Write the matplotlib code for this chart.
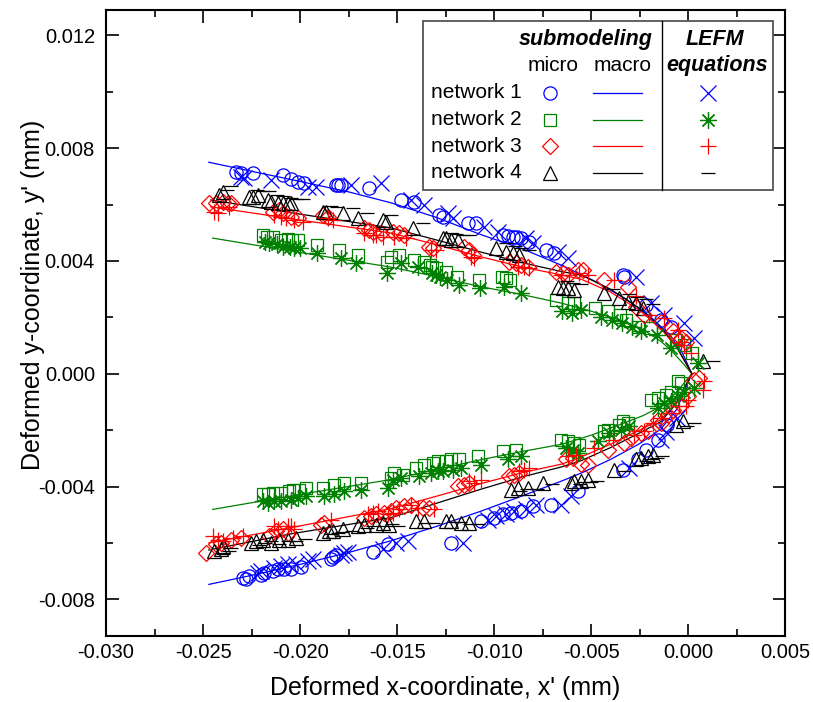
import matplotlib
matplotlib.use('Agg')
import matplotlib.pyplot as plt
from matplotlib.patches import Rectangle
from matplotlib.ticker import MultipleLocator, FormatStrFormatter

plt.rcParams['font.family'] = ['Liberation Sans', 'DejaVu Sans']
plt.rcParams['axes.unicode_minus'] = False

# ---- network 1 ----
# micro (submodel) crack faces: upper face first, then lower face
n1_micro_x = [-0.02330, -0.02304, -0.02244, -0.02089, -0.02047, -0.02012, -0.01978, -0.01815, -0.01806, -0.01789,
              -0.01643, -0.01479, -0.01411, -0.01282, -0.01265, -0.01136, -0.01093, -0.00955, -0.00929, -0.00904,
              -0.00887, -0.00861, -0.00818, -0.00732, -0.00689, -0.00337, -0.00330, -0.00216, -0.00139, -0.00088,
              -0.02295, -0.02278, -0.02261, -0.02201, -0.02184, -0.02141, -0.02115, -0.02081, -0.02046, -0.01995,
              -0.01840, -0.01831, -0.01814, -0.01625, -0.01548, -0.01222, -0.01067, -0.00998, -0.00955, -0.00912,
              -0.00861, -0.00801, -0.00706, -0.00569, -0.00337, -0.00259, -0.00216, -0.00156, -0.00108]
n1_micro_y = [0.00716, 0.00713, 0.00713, 0.00704, 0.00689, 0.00681, 0.00675, 0.00669, 0.00669, 0.00669,
              0.00657, 0.00616, 0.00610, 0.00563, 0.00557, 0.00533, 0.00533, 0.00492, 0.00488, 0.00486,
              0.00484, 0.00480, 0.00468, 0.00439, 0.00427, 0.00350, 0.00344, 0.00244, 0.00191, 0.00167,
              -0.00723, -0.00727, -0.00718, -0.00712, -0.00708, -0.00700, -0.00694, -0.00694, -0.00694, -0.00684,
              -0.00656, -0.00649, -0.00644, -0.00633, -0.00605, -0.00599, -0.00523, -0.00511, -0.00499, -0.00493,
              -0.00487, -0.00470, -0.00464, -0.00417, -0.00340, -0.00304, -0.00269, -0.00234, -0.00181]
n1_lefm_x = [-0.02304, -0.02287, -0.02150, -0.01960, -0.01918, -0.01737, -0.01583, -0.01428, -0.01361, -0.01239,
             -0.01213, -0.01052, -0.00981, -0.00835, -0.00801, -0.00672, -0.00620, -0.00268, -0.00191, -0.00124,
             -0.00021, 0.00031,
             -0.02218, -0.02201, -0.02132, -0.02098, -0.02063, -0.02021, -0.01960, -0.01935, -0.01789, -0.01772,
             -0.01754, -0.01574, -0.01505, -0.01445, -0.01161, -0.01032, -0.00990, -0.00938, -0.00895, -0.00835,
             -0.00784, -0.00655, -0.00603, -0.00303, -0.00139, -0.00113, -0.00057]
n1_lefm_y = [0.00698, 0.00693, 0.00687, 0.00663, 0.00663, 0.00669, 0.00675, 0.00616, 0.00598, 0.00569,
             0.00551, 0.00521, 0.00504, 0.00480, 0.00463, 0.00433, 0.00410, 0.00344, 0.00250, 0.00209,
             0.00181, 0.00127,
             -0.00705, -0.00700, -0.00688, -0.00682, -0.00676, -0.00676, -0.00664, -0.00658, -0.00641, -0.00635,
             -0.00633, -0.00623, -0.00599, -0.00594, -0.00599, -0.00517, -0.00505, -0.00499, -0.00487, -0.00481,
             -0.00464, -0.00464, -0.00434, -0.00334, -0.00234, -0.00205, -0.00156]
# macro model: lower face tip-wards, then upper face back out
n1_macro_x = [-0.0247, -0.0225, -0.0200, -0.0175, -0.0153, -0.0130, -0.0107, -0.0085, -0.0065, -0.0055,
              -0.0040, -0.0025, -0.0014, -0.0006, 0.0002,
              -0.0003, -0.0009, -0.0020, -0.0032, -0.0048, -0.0065, -0.0085, -0.0107, -0.0130, -0.0153,
              -0.0175, -0.0200, -0.0225, -0.0247]
n1_macro_y = [-0.00747, -0.00715, -0.00676, -0.00634, -0.00592, -0.00542, -0.00488, -0.00432, -0.00380, -0.00352,
              -0.00304, -0.00248, -0.00196, -0.00128, 0.0,
              0.00075, 0.00135, 0.00206, 0.00265, 0.00328, 0.00384, 0.00442, 0.00494, 0.00555, 0.00606,
              0.00645, 0.00682, 0.00718, 0.00750]

# ---- network 2 ----
n2_micro_x = [-0.0219, -0.0217, -0.0214, -0.0210, -0.0206, -0.0204, -0.0201, -0.0191, -0.0180, -0.0170,
              -0.0155, -0.0153, -0.0149, -0.0141, -0.0136, -0.0133, -0.0132, -0.0130, -0.0125, -0.0119,
              -0.0108, -0.0096, -0.0094, -0.0092, -0.0068, -0.0062, -0.0059, -0.0048, -0.0041, -0.0035,
              -0.0032, -0.0026, -0.0019, -0.0006, -0.0002, 0.0002,
              -0.02192, -0.02166, -0.02141, -0.02098, -0.02055, -0.02038, -0.02004, -0.01969, -0.01883, -0.01823,
              -0.01772, -0.01686, -0.01531, -0.01514, -0.01471, -0.01402, -0.01359, -0.01316, -0.01290, -0.01247,
              -0.01222, -0.01179, -0.01084, -0.00955, -0.00887, -0.00655, -0.00620, -0.00586, -0.00560, -0.00431,
              -0.00414, -0.00354, -0.00337, -0.00311, -0.00191, -0.00156, -0.00113, -0.00088, -0.00053, -0.00036]
n2_micro_y = [0.00492, 0.00486, 0.00484, 0.00474, 0.00477, 0.00474, 0.00474, 0.00457, 0.00439, 0.00421,
              0.00398, 0.00415, 0.00421, 0.00404, 0.00398, 0.00386, 0.00380, 0.00374, 0.00362, 0.00344,
              0.00333, 0.00344, 0.00339, 0.00333, 0.00262, 0.00250, 0.00250, 0.00233, 0.00221, 0.00209,
              0.00191, 0.00167, 0.00162, 0.00120, 0.00103, 0.00073,
              -0.00428, -0.00428, -0.00422, -0.00422, -0.00417, -0.00411, -0.00411, -0.00405, -0.00405, -0.00393,
              -0.00387, -0.00387, -0.00369, -0.00352, -0.00358, -0.00334, -0.00322, -0.00316, -0.00310, -0.00310,
              -0.00304, -0.00304, -0.00293, -0.00275, -0.00269, -0.00234, -0.00240, -0.00245, -0.00251, -0.00204,
              -0.00198, -0.00181, -0.00169, -0.00175, -0.00092, -0.00086, -0.00074, -0.00063, -0.00027, -0.00033]
n2_lefm_x = [-0.0218, -0.0216, -0.0212, -0.0209, -0.0205, -0.0203, -0.0200, -0.0191, -0.0179, -0.0171,
             -0.0155, -0.0148, -0.0139, -0.0132, -0.0130, -0.0128, -0.0124, -0.0118, -0.0107, -0.0095,
             -0.0086, -0.0065, -0.0060, -0.0055, -0.0045, -0.0039, -0.0034, -0.0029, -0.0024, -0.0016,
             -0.0009, 0.0005,
             -0.02192, -0.02166, -0.02132, -0.02098, -0.02046, -0.02012, -0.01969, -0.01875, -0.01823, -0.01772,
             -0.01686, -0.01548, -0.01522, -0.01479, -0.01385, -0.01325, -0.01290, -0.01264, -0.01213, -0.01170,
             -0.01067, -0.00929, -0.00861, -0.00629, -0.00594, -0.00569, -0.00465, -0.00406, -0.00345, -0.00303,
             -0.00156, -0.00122, -0.00088, -0.00053, -0.00019, 0.00032]
n2_lefm_y = [0.00468, 0.00463, 0.00459, 0.00451, 0.00451, 0.00445, 0.00445, 0.00427, 0.00410, 0.00392,
             0.00356, 0.00392, 0.00380, 0.00356, 0.00350, 0.00344, 0.00333, 0.00315, 0.00303, 0.00309,
             0.00286, 0.00221, 0.00215, 0.00227, 0.00203, 0.00191, 0.00179, 0.00167, 0.00150, 0.00138,
             0.00091, 0.00038,
             -0.00452, -0.00458, -0.00452, -0.00452, -0.00446, -0.00440, -0.00434, -0.00434, -0.00428, -0.00417,
             -0.00411, -0.00405, -0.00375, -0.00369, -0.00364, -0.00352, -0.00346, -0.00346, -0.00340, -0.00334,
             -0.00322, -0.00304, -0.00293, -0.00263, -0.00269, -0.00281, -0.00240, -0.00210, -0.00198, -0.00187,
             -0.00121, -0.00104, -0.00098, -0.00080, -0.00063, -0.00051]
n2_macro_x = [-0.0245, -0.0200, -0.0153, -0.0130, -0.0107, -0.0085, -0.0065, -0.0050, -0.0035, -0.0023,
              -0.0014, -0.0006, 0.0002,
              -0.0003, -0.0009, -0.0014, -0.0023, -0.0035, -0.0050, -0.0065, -0.0085, -0.0107, -0.0130,
              -0.0153, -0.0200, -0.0245]
n2_macro_y = [-0.00481, -0.00428, -0.00375, -0.00340, -0.00305, -0.00275, -0.00250, -0.00218, -0.00180, -0.00148,
              -0.00116, -0.00065, 0.0,
              0.00040, 0.00085, 0.00115, 0.00156, 0.00190, 0.00222, 0.00250, 0.00280, 0.00309, 0.00345,
              0.00378, 0.00430, 0.00481]

# ---- network 3 ----
n3_micro_x = [-0.02468, -0.02433, -0.02398, -0.02373, -0.02356, -0.02141, -0.02107, -0.02089, -0.02046, -0.02012,
              -0.01883, -0.01857, -0.01669, -0.01643, -0.01625, -0.01582, -0.01522, -0.01488, -0.01462, -0.01334,
              -0.01316, -0.01153, -0.01127, -0.01110, -0.00921, -0.00887, -0.00861, -0.00826, -0.00680, -0.00646,
              -0.00620, -0.00569, -0.00543, -0.00431, -0.00311, -0.00268, -0.00225, -0.00139, -0.00079, -0.00062,
              -0.00036, -0.00010,
              -0.02484, -0.02433, -0.02407, -0.02356, -0.02304, -0.02158, -0.02124, -0.02089, -0.02063, -0.01892,
              -0.01875, -0.01669, -0.01634, -0.01608, -0.01565, -0.01531, -0.01505, -0.01462, -0.01428, -0.01368,
              -0.01334, -0.01187, -0.01153, -0.01127, -0.00921, -0.00895, -0.00870, -0.00629, -0.00594, -0.00552,
              -0.00517, -0.00414, -0.00328, -0.00294, -0.00242, -0.00208, -0.00156, -0.00139, -0.00105, -0.00079,
              -0.00036, -0.00002, 0.00032, 0.00058]
n3_micro_y = [0.00604, 0.00604, 0.00610, 0.00606, 0.00604, 0.00575, 0.00581, 0.00569, 0.00557, 0.00551,
              0.00563, 0.00557, 0.00516, 0.00510, 0.00504, 0.00498, 0.00504, 0.00498, 0.00492, 0.00451,
              0.00445, 0.00451, 0.00439, 0.00421, 0.00398, 0.00392, 0.00386, 0.00380, 0.00362, 0.00356,
              0.00350, 0.00368, 0.00368, 0.00333, 0.00309, 0.00238, 0.00209, 0.00185, 0.00150, 0.00132,
              0.00126, 0.00114,
              -0.00635, -0.00605, -0.00599, -0.00588, -0.00582, -0.00576, -0.00558, -0.00552, -0.00564, -0.00535,
              -0.00528, -0.00511, -0.00505, -0.00499, -0.00493, -0.00487, -0.00475, -0.00470, -0.00464, -0.00475,
              -0.00475, -0.00399, -0.00393, -0.00387, -0.00364, -0.00358, -0.00352, -0.00304, -0.00298, -0.00320,
              -0.00325, -0.00269, -0.00245, -0.00228, -0.00210, -0.00204, -0.00163, -0.00175, -0.00145, -0.00127,
              -0.00110, -0.00080, -0.00021, -0.00015]
n3_lefm_x = [-0.02442, -0.02424, -0.02364, -0.02132, -0.02098, -0.02072, -0.02029, -0.01986, -0.01857, -0.01831,
             -0.01669, -0.01625, -0.01608, -0.01574, -0.01514, -0.01454, -0.01325, -0.01299, -0.01119, -0.01102,
             -0.00878, -0.00844, -0.00818, -0.00655, -0.00612, -0.00560, -0.00517, -0.00380, -0.00268, -0.00199,
             -0.00122, -0.00053, -0.00036, -0.00019, 0.00015,
             -0.02450, -0.02424, -0.02398, -0.02347, -0.02295, -0.02132, -0.02115, -0.02063, -0.02046, -0.02029,
             -0.01840, -0.01651, -0.01625, -0.01599, -0.01548, -0.01522, -0.01488, -0.01428, -0.01393, -0.01308,
             -0.01127, -0.01102, -0.01067, -0.00870, -0.00844, -0.00818, -0.00620, -0.00577, -0.00483, -0.00388,
             -0.00277, -0.00225, -0.00182, -0.00139, -0.00088, -0.00045, -0.00010, -0.00002, 0.00076, 0.00084]
n3_lefm_y = [0.00575, 0.00569, 0.00592, 0.00563, 0.00557, 0.00551, 0.00545, 0.00539, 0.00551, 0.00545,
             0.00498, 0.00492, 0.00492, 0.00486, 0.00486, 0.00480, 0.00439, 0.00439, 0.00415, 0.00410,
             0.00380, 0.00380, 0.00374, 0.00350, 0.00350, 0.00356, 0.00350, 0.00333, 0.00274, 0.00209,
             0.00197, 0.00156, 0.00114, 0.00103, 0.00073,
             -0.00576, -0.00588, -0.00594, -0.00582, -0.00576, -0.00541, -0.00552, -0.00541, -0.00541, -0.00552,
             -0.00517, -0.00499, -0.00493, -0.00487, -0.00499, -0.00493, -0.00481, -0.00464, -0.00475, -0.00481,
             -0.00381, -0.00387, -0.00375, -0.00346, -0.00340, -0.00334, -0.00293, -0.00287, -0.00263, -0.00234,
             -0.00216, -0.00204, -0.00175, -0.00157, -0.00139, -0.00116, -0.00116, -0.00092, -0.00057, -0.00027]
n3_macro_x = [-0.0247, -0.0205, -0.0153, -0.0130, -0.0107, -0.0085, -0.0065, -0.0055, -0.0040, -0.0025,
              -0.0014, -0.0006, 0.0002,
              -0.0006, -0.0014, -0.0025, -0.0040, -0.0055, -0.0065, -0.0085, -0.0107, -0.0130, -0.0153,
              -0.0200, -0.0246]
n3_macro_y = [-0.00600, -0.00546, -0.00478, -0.00435, -0.00390, -0.00350, -0.00320, -0.00295, -0.00250, -0.00200,
              -0.00163, -0.00100, 0.0,
              0.00095, 0.00160, 0.00225, 0.00290, 0.00335, 0.00350, 0.00378, 0.00415, 0.00458, 0.00499,
              0.00545, 0.00592]

# ---- network 4 ----
n4_micro_x = [-0.02416, -0.02398, -0.02261, -0.02244, -0.02218, -0.02166, -0.02149, -0.02115, -0.02089, -0.02063,
              -0.02046, -0.01883, -0.01866, -0.01780, -0.01703, -0.01574, -0.01557, -0.01419, -0.01264, -0.01247,
              -0.01222, -0.01187, -0.00990, -0.00938, -0.00904, -0.00870, -0.00672, -0.00646, -0.00620, -0.00586,
              -0.00431, -0.00354, -0.00311, -0.00268, -0.00234, 0.00076,
              -0.02442, -0.02407, -0.02398, -0.02253, -0.02227, -0.02192, -0.02149, -0.02107, -0.02063, -0.02021,
              -0.01883, -0.01849, -0.01831, -0.01780, -0.01703, -0.01669, -0.01608, -0.01574, -0.01540, -0.01402,
              -0.01359, -0.01247, -0.01222, -0.01170, -0.01127, -0.00912, -0.00878, -0.00826, -0.00749, -0.00603,
              -0.00586, -0.00552, -0.00517, -0.00380, -0.00268, -0.00242, -0.00208, -0.00182, -0.00062, -0.00027]
n4_micro_y = [0.00634, 0.00645, 0.00628, 0.00628, 0.00634, 0.00616, 0.00610, 0.00604, 0.00604, 0.00604,
              0.00604, 0.00575, 0.00575, 0.00569, 0.00551, 0.00545, 0.00539, 0.00516, 0.00480, 0.00480,
              0.00474, 0.00474, 0.00445, 0.00433, 0.00427, 0.00421, 0.00309, 0.00303, 0.00303, 0.00297,
              0.00286, 0.00268, 0.00256, 0.00250, 0.00233, 0.00044,
              -0.00629, -0.00623, -0.00611, -0.00599, -0.00594, -0.00588, -0.00599, -0.00588, -0.00588, -0.00582,
              -0.00564, -0.00558, -0.00558, -0.00552, -0.00541, -0.00535, -0.00535, -0.00528, -0.00535, -0.00523,
              -0.00523, -0.00523, -0.00523, -0.00528, -0.00528, -0.00411, -0.00405, -0.00405, -0.00387, -0.00387,
              -0.00381, -0.00381, -0.00375, -0.00340, -0.00304, -0.00298, -0.00293, -0.00287, -0.00181, -0.00169]
n4_lefm_x = [-0.02376, -0.02356, -0.02222, -0.02191, -0.02160, -0.02119, -0.02088, -0.02046, -0.02015, -0.01985,
             -0.01840, -0.01809, -0.01727, -0.01655, -0.01531, -0.01366, -0.01222, -0.01196, -0.01160, -0.01129,
             -0.00938, -0.00892, -0.00861, -0.00820, -0.00624, -0.00593, -0.00552, -0.00387, -0.00304, -0.00263,
             -0.00216, -0.00180, 0.00129,
             -0.02397, -0.02366, -0.02356, -0.02211, -0.02180, -0.02149, -0.02108, -0.02062, -0.02021, -0.01974,
             -0.01840, -0.01804, -0.01784, -0.01732, -0.01655, -0.01624, -0.01562, -0.01526, -0.01495, -0.01356,
             -0.01314, -0.01201, -0.01175, -0.01124, -0.01082, -0.00866, -0.00830, -0.00778, -0.00701, -0.00557,
             -0.00536, -0.00500, -0.00469, -0.00330, -0.00216, -0.00191, -0.00160, -0.00134, -0.00005, 0.00031]
n4_lefm_y = [0.00651, 0.00666, 0.00651, 0.00648, 0.00648, 0.00634, 0.00630, 0.00623, 0.00619, 0.00619,
             0.00595, 0.00591, 0.00588, 0.00570, 0.00563, 0.00535, 0.00499, 0.00496, 0.00492, 0.00492,
             0.00464, 0.00453, 0.00446, 0.00439, 0.00329, 0.00322, 0.00319, 0.00301, 0.00283, 0.00273,
             0.00265, 0.00248, 0.00046,
             -0.00640, -0.00629, -0.00619, -0.00608, -0.00601, -0.00594, -0.00605, -0.00594, -0.00594, -0.00587,
             -0.00569, -0.00566, -0.00562, -0.00559, -0.00548, -0.00541, -0.00541, -0.00534, -0.00541, -0.00530,
             -0.00530, -0.00527, -0.00527, -0.00534, -0.00534, -0.00417, -0.00410, -0.00410, -0.00392, -0.00392,
             -0.00385, -0.00385, -0.00382, -0.00346, -0.00311, -0.00304, -0.00297, -0.00293, -0.00187, -0.00173]
n4_macro_x = [-0.0247, -0.0205, -0.0153, -0.0130, -0.0107, -0.0085, -0.0065, -0.0055, -0.0040, -0.0025,
              -0.0014, -0.0006, 0.0002,
              -0.0006, -0.0014, -0.0025, -0.0040, -0.0055, -0.0065, -0.0085, -0.0107, -0.0130, -0.0153,
              -0.0200, -0.0246]
n4_macro_y = [-0.00625, -0.00568, -0.00510, -0.00460, -0.00410, -0.00365, -0.00330, -0.00308, -0.00262, -0.00210,
              -0.00170, -0.00105, 0.0,
              0.00098, 0.00165, 0.00232, 0.00300, 0.00350, 0.00362, 0.00393, 0.00432, 0.00475, 0.00517,
              0.00566, 0.00616]

labels = ['network 1', 'network 2', 'network 3', 'network 4']
colors = ['#0000ff', '#008000', '#ff0000', '#000000']
micro_markers = [('o', 9.5), ('s', 8.5), ('D', 8.3), ('^', 10.5)]
lefm_markers = [('x', 11.5), ((8, 2, 0), 12), ('+', 11), ('_', 10)]

micro = [(n1_micro_x, n1_micro_y), (n2_micro_x, n2_micro_y), (n3_micro_x, n3_micro_y), (n4_micro_x, n4_micro_y)]
lefm = [(n1_lefm_x, n1_lefm_y), (n2_lefm_x, n2_lefm_y), (n3_lefm_x, n3_lefm_y), (n4_lefm_x, n4_lefm_y)]
macro = [(n1_macro_x, n1_macro_y), (n2_macro_x, n2_macro_y), (n3_macro_x, n3_macro_y), (n4_macro_x, n4_macro_y)]

fig = plt.figure(figsize=(8.13, 7.02), dpi=100)
ax = fig.add_axes([0.1304, 0.094, 0.8352, 0.8918])

for (mx, my), c in zip(macro, colors):
    ax.plot(mx, my, color=c, lw=0.9, zorder=2)
for (px, py), (m, ms), c in zip(micro, micro_markers, colors):
    ax.plot(px, py, ls='none', marker=m, ms=ms, mfc='none', mec=c, mew=0.9, zorder=3)
for (px, py), (m, ms), c in zip(lefm, lefm_markers, colors):
    ax.plot(px, py, ls='none', marker=m, ms=ms, color=c, mew=0.9, zorder=3)

ax.set_xlim(-0.030, 0.005)
ax.set_ylim(-0.0093, 0.0129)
ax.xaxis.set_major_locator(MultipleLocator(0.005))
ax.xaxis.set_minor_locator(MultipleLocator(0.0025))
ax.yaxis.set_major_locator(MultipleLocator(0.004))
ax.yaxis.set_minor_locator(MultipleLocator(0.002))
ax.xaxis.set_major_formatter(FormatStrFormatter('%.3f'))
ax.yaxis.set_major_formatter(FormatStrFormatter('%.3f'))
ax.tick_params(which='both', direction='in', top=True, right=True, width=1.2, labelsize=14.5)
ax.tick_params(which='major', length=9)
ax.tick_params(which='minor', length=5)
ax.tick_params(axis='x', pad=5)
ax.tick_params(axis='y', pad=8)
for s in ax.spines.values():
    s.set_linewidth(1.5)

ax.set_xlabel("Deformed x-coordinate, x' (mm)", fontsize=18, labelpad=10)
ax.set_ylabel("Deformed y-coordinate, y' (mm)", fontsize=18)
ax.yaxis.set_label_coords(-0.090, 0.545)

# table-style legend in the upper right corner
tr = ax.transAxes
ax.add_patch(Rectangle((0.4669, 0.7129), 0.5154, 0.2700, transform=tr, facecolor='white',
                       edgecolor='#555555', lw=1.3, zorder=5))
ax.plot([0.8184, 0.8184], [0.7129, 0.9829], transform=tr, color='k', lw=1.0, zorder=6)
hdr = dict(transform=tr, fontsize=15.5, fontweight='bold', fontstyle='italic', va='center', zorder=6)
ax.text(0.8056, 0.9526, 'submodeling', ha='right', **hdr)
ax.text(0.8969, 0.9526, 'LEFM', ha='center', **hdr)
ax.text(0.8999, 0.9105, 'equations', ha='center', **hdr)
ax.text(0.6583, 0.9105, 'micro', ha='center', va='center', fontsize=15, transform=tr, zorder=6)
ax.text(0.7614, 0.9105, 'macro', ha='center', va='center', fontsize=15, transform=tr, zorder=6)

row_y = [0.8674, 0.8248, 0.7823, 0.7396]
for lab, c, (m1, s1), (m2, s2), yy in zip(labels, colors, micro_markers, lefm_markers, row_y):
    ax.text(0.4786, yy, lab, ha='left', va='center', fontsize=15, transform=tr, zorder=6)
    ax.plot([0.6539], [yy], transform=tr, ls='none', marker=m1, ms=s1, mfc='none', mec=c, mew=0.9,
            zorder=6, clip_on=False)
    ax.plot([0.7172, 0.7894], [yy, yy], transform=tr, color=c, lw=0.9, zorder=6, clip_on=False)
    ax.plot([0.8866], [yy], transform=tr, ls='none', marker=m2, ms=s2, color=c, mew=0.9,
            zorder=6, clip_on=False)

fig.savefig('out.png', dpi=100)
